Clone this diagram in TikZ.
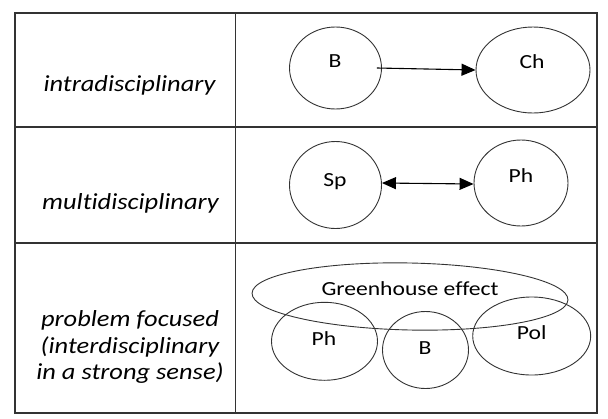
\documentclass[tikz,border=0pt]{standalone}
\usepackage{fontspec}
\setmainfont{Carlito}
\newfontfamily\rowfont[FakeStretch=1.15,Ligatures=NoCommon,RawFeature=-liga]{Carlito}
\newfontfamily\labfont[FakeStretch=1.18,Ligatures=NoCommon,RawFeature=-liga]{Carlito}
\usetikzlibrary{shapes.geometric,arrows.meta}
\begin{document}
\begin{tikzpicture}[x=1pt,y=-1pt,
  grid/.style={draw=black!80,line width=1.4pt},
  blob/.style={draw=black!80,line width=0.9pt,ellipse,inner sep=0pt},
  lab/.style={font=\labfont\fontsize{20}{24}\selectfont,text=black,inner sep=0pt},
  rowlab/.style={font=\rowfont\fontsize{23}{26.5}\selectfont\itshape,text=black,align=center,inner sep=0pt},
  link/.style={draw=black,line width=1.1pt,-{Triangle[length=14pt,width=12pt]}},
  dlink/.style={draw=black,line width=1.1pt,{Triangle[length=14pt,width=12pt]}-{Triangle[length=14pt,width=12pt]}}]
\useasboundingbox (0,0) rectangle (608,418);
\fill[white] (0,0) rectangle (608,418);
% table
\coordinate (tl) at (15,13);
\coordinate (br) at (597,413);
\draw[grid] (tl) rectangle (br);
\coordinate (c1) at (235.5,13);
\coordinate (c2) at (235.5,413);
\draw[grid] (c1) -- (c2);
\coordinate (r1a) at (15,127);
\coordinate (r1b) at (597,127);
\draw[grid] (r1a) -- (r1b);
\coordinate (r2a) at (15,243);
\coordinate (r2b) at (597,243);
\draw[grid] (r2a) -- (r2b);
% row labels
\node[rowlab,anchor=base] (t1) at (129.5,91.7) {intradisciplinary};
\node[rowlab,anchor=base] (t2) at (130.5,209) {multidisciplinary};
\node[rowlab] (t3) at (130,347) {problem focused\\(interdisciplinary\\in a strong sense)};
% row 1
\node[blob,minimum width=92pt,minimum height=82pt] (B1) at (335.5,68) {};
\node[lab] (B1t) at (335,61) {B};
\node[blob,minimum width=114pt,minimum height=86pt] (Ch) at (533,70) {};
\node[lab] (Cht) at (532,62) {Ch};
\draw[link] ([xshift=-5pt]B1.east) -- (Ch.west);
% row 2
\node[blob,minimum width=92pt,minimum height=87pt] (Sp) at (335.5,185) {};
\node[lab] (Spt) at (335,182) {Sp};
\node[blob,minimum width=94pt,minimum height=86pt] (Ph1) at (521,183) {};
\node[lab] (Ph1t) at (521,176) {Ph};
\draw[dlink] ([yshift=2pt]Sp.east) -- ([yshift=-1pt]Ph1.west);
% row 3
\node[blob,minimum width=316pt,minimum height=67pt,rotate=-1.2] (GH) at (410,296.5) {};
\node[lab] (GHt) at (410,289) {Greenhouse effect};
\node[blob,minimum width=106pt,minimum height=78pt] (Ph2) at (324.5,341.3) {};
\node[lab] (Ph2t) at (324,339) {Ph};
\node[blob,minimum width=86pt,minimum height=77pt] (B2) at (425.5,350) {};
\node[lab] (B2t) at (425,348) {B};
\node[blob,minimum width=118pt,minimum height=78pt] (Pol) at (531.7,336) {};
\node[lab] (Polt) at (531.7,333) {Pol};
\end{tikzpicture}
\end{document}
